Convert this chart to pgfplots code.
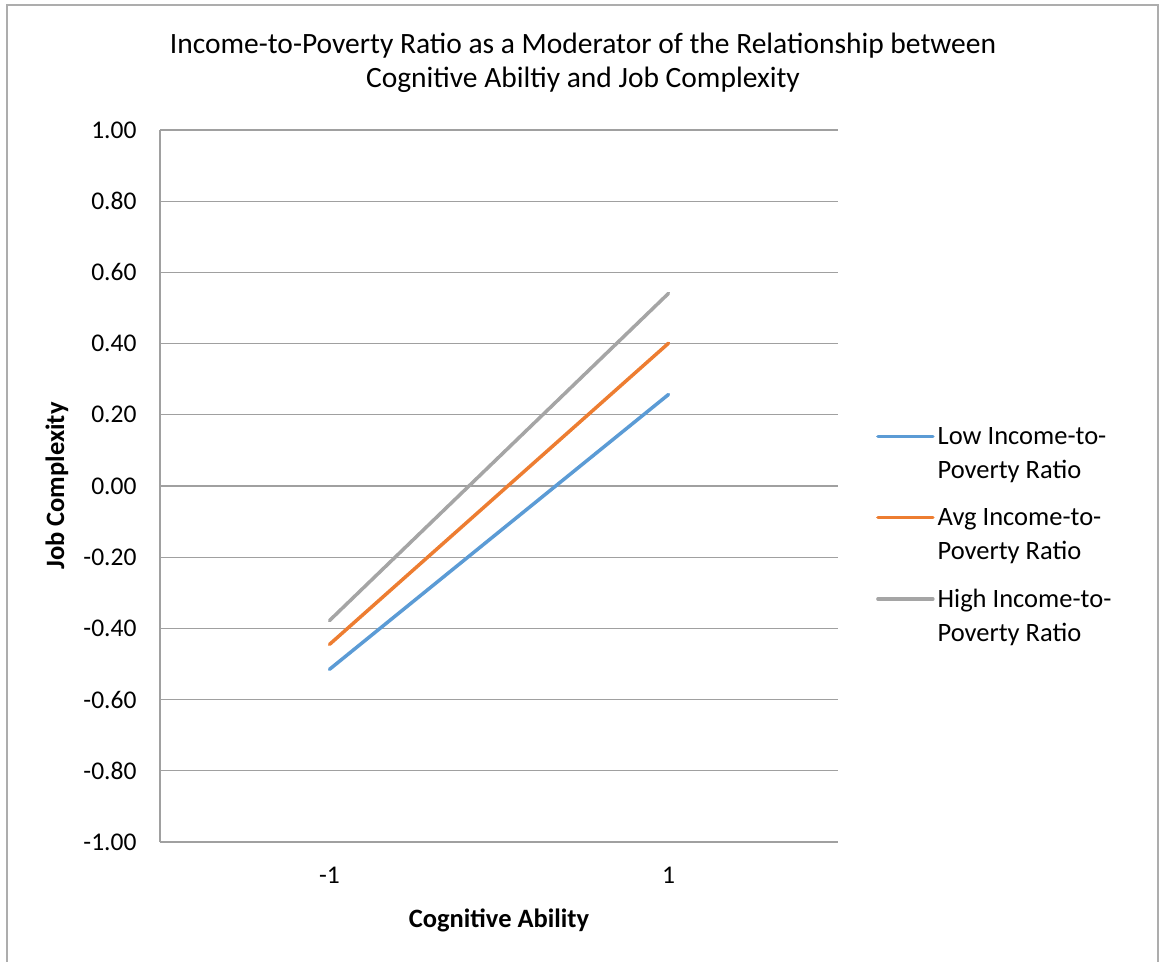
\documentclass[border=0pt]{standalone}
\usepackage{fontspec}
\setmainfont{Carlito}
\usepackage{pgfplots}
\pgfplotsset{compat=1.18}

\definecolor{lowblue}{HTML}{5B9BD5}
\definecolor{avgorange}{HTML}{ED7D31}
\definecolor{highgray}{HTML}{A5A5A5}
\definecolor{gridgray}{HTML}{A0A0A0}
\definecolor{framegray}{HTML}{ADADAD}

\newcommand{\ticksize}{\fontsize{25.5}{30}\selectfont}
\newcommand{\legsize}{\fontsize{26.5}{34}\selectfont}
\newcommand{\labsize}{\fontsize{26.5}{30}\selectfont}
\newcommand{\titsize}{\fontsize{29.5}{34}\selectfont}

\begin{document}
\begin{tikzpicture}
\path[use as bounding box] (0pt,0pt) rectangle (1161pt,961pt);
% chart area border
\draw[framegray, line width=2pt] (6.5pt,-5pt) -- (6.5pt,956pt) -- (1158pt,956pt) -- (1158pt,-5pt);

\begin{axis}[
  at={(160pt,119pt)}, anchor=south west,
  scale only axis, width=678pt, height=712pt,
  xmin=-0.5, xmax=1.5, ymin=-1, ymax=1,
  xtick={0,1}, xticklabels={-1,1},
  ytick={-1,-0.8,-0.6,-0.4,-0.2,0,0.2,0.4,0.6,0.8,1},
  yticklabel={\pgfmathprintnumber[fixed,fixed zerofill,precision=2]{\tick}},
  /pgf/number format/assume math mode=true,
  axis x line*=bottom, axis y line*=left,
  axis line style={gridgray, line width=1.3pt},
  ymajorgrids, grid style={gridgray, line width=1.3pt},
  major tick length=0pt,
  tick label style={font=\ticksize},
  yticklabel shift=20pt, xticklabel shift=22pt,
  legend style={draw=none, fill=none, at={(axis description cs:1.056,0.583)},
    anchor=north west, inner sep=0pt, font=\legsize,
    nodes={inner sep=0pt, align=left}, row sep=28.5pt, column sep=3pt},
  legend cell align=left,
  % key line sits level with the first line of each two-line entry
  legend image code/.code={\draw[#1] (0pt,17pt) -- (55pt,17pt);},
  every axis plot/.append style={line width=3.5pt, line cap=round},
]
\addplot[lowblue] coordinates {(0,-0.515) (1,0.257)};
\addlegendentry{Low Income-to-\\Poverty Ratio}
\addplot[avgorange] coordinates {(0,-0.445) (1,0.401)};
\addlegendentry{Avg Income-to-\\Poverty Ratio}
\addplot[highgray] coordinates {(0,-0.378) (1,0.541)};
\addlegendentry{High Income-to-\\Poverty Ratio}
\end{axis}

\node[font=\titsize] at (583pt,915pt) {Income-to-Poverty Ratio as a Moderator of the Relationship between};
\node[font=\titsize] at (583pt,881pt) {Cognitive Abiltiy and Job Complexity};
\node[font=\bfseries\labsize, rotate=90] at (57pt,475pt) {Job Complexity};
\node[font=\bfseries\labsize] at (499pt,41pt) {Cognitive Ability};
\end{tikzpicture}
\end{document}
